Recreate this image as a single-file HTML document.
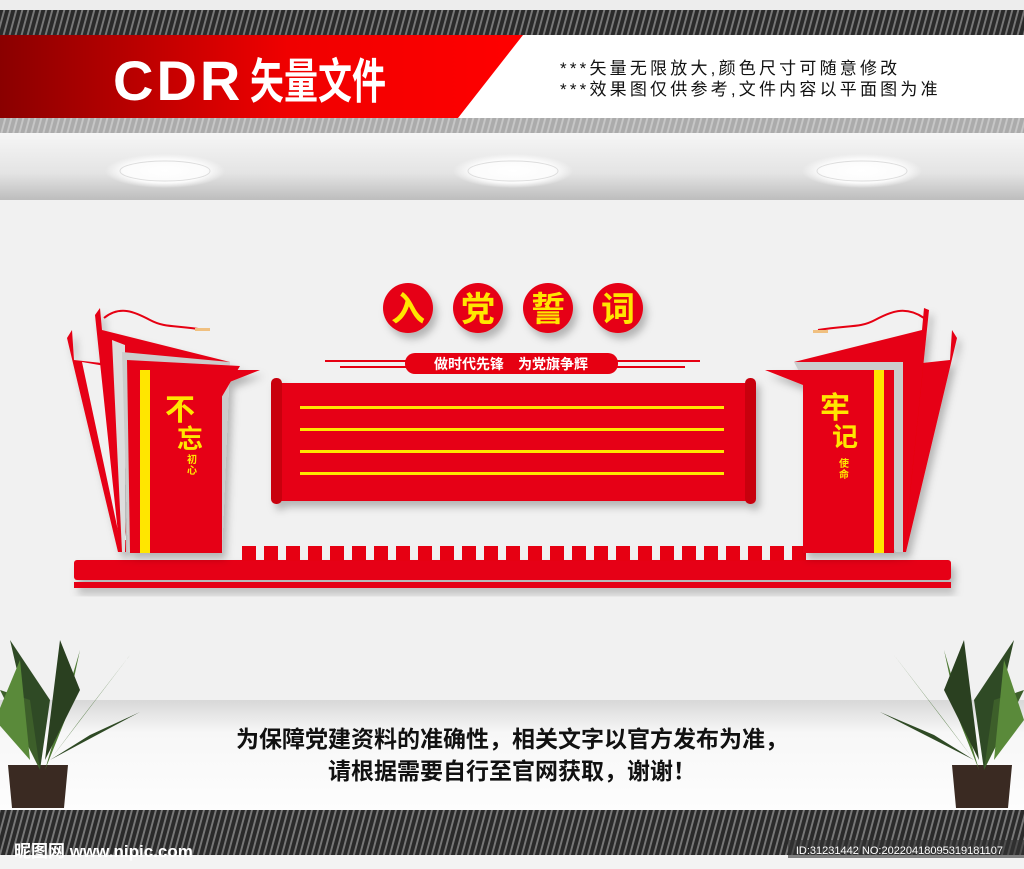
<!DOCTYPE html>
<html><head><meta charset="utf-8"><style>
html,body{margin:0;padding:0;width:1024px;height:869px;overflow:hidden;background:#f1f1f1}
svg{display:block}
text{font-family:"Liberation Sans","Noto Sans CJK SC",sans-serif}
</style></head><body>
<svg width="1024" height="869" viewBox="0 0 1024 869" xmlns="http://www.w3.org/2000/svg">
<defs>
<pattern id="st" width="6" height="10" patternUnits="userSpaceOnUse" patternTransform="skewX(-15)">
<rect width="6" height="10" fill="#2a2a2a"/><rect width="2" height="10" fill="#777"/>
</pattern>
<linearGradient id="rg" x1="0" x2="1"><stop offset="0" stop-color="#8a0000"/><stop offset="0.55" stop-color="#f00000"/><stop offset="1" stop-color="#ff0000"/></linearGradient>
<linearGradient id="ceil" x1="0" y1="0" x2="0" y2="1"><stop offset="0" stop-color="#f6f6f6"/><stop offset="0.6" stop-color="#e4e4e4"/><stop offset="1" stop-color="#bdbdbd"/></linearGradient>
<linearGradient id="bot" x1="0" y1="0" x2="0" y2="1"><stop offset="0" stop-color="#d8d8d8"/><stop offset="0.3" stop-color="#f7f7f7"/><stop offset="1" stop-color="#fdfdfd"/></linearGradient>
<radialGradient id="lt"><stop offset="0" stop-color="#fff"/><stop offset="0.7" stop-color="#fbfbfb"/><stop offset="1" stop-color="#fbfbfb" stop-opacity="0"/></radialGradient>
<filter id="sh" x="-10%" y="-10%" width="130%" height="140%"><feDropShadow dx="4" dy="6" stdDeviation="4" flood-color="#000" flood-opacity="0.25"/></filter>
</defs>
<rect x="0" y="0" width="1024" height="10" fill="#ededed"/>
<rect x="0" y="10" width="1024" height="25" fill="url(#st)"/>
<rect x="0" y="35" width="1024" height="83" fill="#fff"/>
<polygon points="0,35 523,35 458,118 0,118" fill="url(#rg)"/>
<text x="113" y="100" font-size="56" font-weight="bold" fill="#fff" letter-spacing="3">CDR</text>
<text transform="translate(250,98) scale(0.85,1.2)" font-size="40" font-weight="bold" fill="#fff">矢量文件</text>
<text x="560" y="74" font-size="17" fill="#111" letter-spacing="3.2">***矢量无限放大,颜色尺寸可随意修改</text>
<text x="560" y="95" font-size="17" fill="#111" letter-spacing="3.2">***效果图仅供参考,文件内容以平面图为准</text>
<rect x="0" y="118" width="1024" height="15" fill="url(#st)" opacity="0.35"/>
<rect x="0" y="133" width="1024" height="67" fill="url(#ceil)"/>
<ellipse cx="165" cy="171" rx="60" ry="17" fill="url(#lt)"/>
<ellipse cx="513" cy="171" rx="60" ry="17" fill="url(#lt)"/>
<ellipse cx="862" cy="171" rx="60" ry="17" fill="url(#lt)"/>
<ellipse cx="165" cy="171" rx="45" ry="10" fill="none" stroke="#ddd"/>
<ellipse cx="513" cy="171" rx="45" ry="10" fill="none" stroke="#ddd"/>
<ellipse cx="862" cy="171" rx="45" ry="10" fill="none" stroke="#ddd"/>
<rect x="0" y="200" width="1024" height="500" fill="#f1f1f1"/>
<g filter="url(#sh)">
<circle cx="408" cy="308" r="25" fill="#e60012"/>
<circle cx="478" cy="308" r="25" fill="#e60012"/>
<circle cx="548" cy="308" r="25" fill="#e60012"/>
<circle cx="618" cy="308" r="25" fill="#e60012"/>
</g>
<g font-size="34" font-weight="bold" fill="#ffe600" text-anchor="middle">
<text x="408" y="321">入</text><text x="478" y="321">党</text><text x="548" y="321">誓</text><text x="618" y="321">词</text>
</g>
<rect x="325" y="360" width="85" height="2" fill="#e60012"/><rect x="340" y="366" width="70" height="2" fill="#e60012"/>
<rect x="615" y="360" width="85" height="2" fill="#e60012"/><rect x="615" y="366" width="70" height="2" fill="#e60012"/>
<rect x="405" y="353" width="213" height="21" rx="10" fill="#e60012"/>
<text x="511" y="369" font-size="14" font-weight="bold" fill="#fff" text-anchor="middle">做时代先锋　为党旗争辉</text>
<g filter="url(#sh)">
<rect x="280" y="383" width="467" height="118" fill="#e60012"/>
<rect x="271" y="378" width="11" height="126" rx="5" fill="#c8000f"/>
<rect x="745" y="378" width="11" height="126" rx="5" fill="#c8000f"/>
</g>
<g fill="#ffe600">
<rect x="300" y="406" width="424" height="3"/><rect x="300" y="428" width="424" height="3"/>
<rect x="300" y="450" width="424" height="3"/><rect x="300" y="472" width="424" height="3"/>
</g>
<g filter="url(#sh)" fill="#e60012">
<rect x="74" y="560" width="877" height="20" rx="3"/>
<rect x="74" y="582" width="877" height="6"/>
</g>
<g fill="#e60012">
<rect x="242" y="546" width="14" height="15"/><rect x="264" y="546" width="14" height="15"/><rect x="286" y="546" width="14" height="15"/><rect x="308" y="546" width="14" height="15"/><rect x="330" y="546" width="14" height="15"/><rect x="352" y="546" width="14" height="15"/><rect x="374" y="546" width="14" height="15"/><rect x="396" y="546" width="14" height="15"/><rect x="418" y="546" width="14" height="15"/><rect x="440" y="546" width="14" height="15"/><rect x="462" y="546" width="14" height="15"/><rect x="484" y="546" width="14" height="15"/><rect x="506" y="546" width="14" height="15"/><rect x="528" y="546" width="14" height="15"/><rect x="550" y="546" width="14" height="15"/><rect x="572" y="546" width="14" height="15"/><rect x="594" y="546" width="14" height="15"/><rect x="616" y="546" width="14" height="15"/><rect x="638" y="546" width="14" height="15"/><rect x="660" y="546" width="14" height="15"/><rect x="682" y="546" width="14" height="15"/><rect x="704" y="546" width="14" height="15"/><rect x="726" y="546" width="14" height="15"/><rect x="748" y="546" width="14" height="15"/><rect x="770" y="546" width="14" height="15"/><rect x="792" y="546" width="14" height="15"/>
</g>
<g filter="url(#sh)">
<polygon points="67,338 72,330 74,360 120,365 126,552 118,552" fill="#e60012"/>
<polygon points="82,362 105,366 126,540 120,540" fill="#f1f1f1"/>
<polygon points="95,315 100,308 102,330 230,362 125,362 124,552 120,552" fill="#e60012"/>
<polygon points="112,340 122,552 125,552 125,345" fill="#ddd"/>
<polygon points="122,352 230,362 222,552 128,552" fill="#ccc"/>
<polygon points="127,360 240,366 130,552" fill="#e60012"/>
<polygon points="130,370 260,370 222,385 222,553 130,553" fill="#e60012"/>
</g>
<rect x="140" y="370" width="10" height="183" fill="#ffe600"/>
<path d="M104,318 C120,305 135,312 150,320 S175,325 205,330" stroke="#e60012" stroke-width="2" fill="none"/>
<rect x="195" y="328" width="15" height="3" fill="#f0c080"/>
<text x="180" y="420" font-size="30" font-weight="bold" fill="#ffe600" text-anchor="middle" font-family="Noto Serif CJK SC,serif">不</text>
<text x="190" y="448" font-size="26" font-weight="bold" fill="#ffe600" text-anchor="middle" font-family="Noto Serif CJK SC,serif">忘</text>
<text x="192" y="463" font-size="10" font-weight="bold" fill="#ffe600" text-anchor="middle">初</text>
<text x="192" y="474" font-size="10" font-weight="bold" fill="#ffe600" text-anchor="middle">心</text>
<g filter="url(#sh)">
<polygon points="957,338 952,330 950,360 904,365 898,552 906,552" fill="#e60012"/>
<polygon points="929,310 924,308 922,330 794,362 899,362 900,552 904,552" fill="#e60012"/>
<polygon points="794,362 903,362 903,552 896,552" fill="#ccc"/>
<polygon points="894,370 765,370 803,385 803,553 894,553" fill="#e60012"/>
</g>
<rect x="874" y="370" width="10" height="183" fill="#ffe600"/>
<path d="M924,318 C905,305 890,312 875,320 S850,325 818,330" stroke="#e60012" stroke-width="2" fill="none"/>
<rect x="813" y="330" width="15" height="3" fill="#f0c080"/>
<text x="835" y="418" font-size="30" font-weight="bold" fill="#ffe600" text-anchor="middle" font-family="Noto Serif CJK SC,serif">牢</text>
<text x="845" y="446" font-size="26" font-weight="bold" fill="#ffe600" text-anchor="middle" font-family="Noto Serif CJK SC,serif">记</text>
<text x="844" y="467" font-size="10" font-weight="bold" fill="#ffe600" text-anchor="middle">使</text>
<text x="844" y="478" font-size="10" font-weight="bold" fill="#ffe600" text-anchor="middle">命</text>
<rect x="0" y="700" width="1024" height="110" fill="url(#bot)"/>
<text x="512" y="747" font-size="23" font-weight="bold" fill="#111" text-anchor="middle">为保障党建资料的准确性，相关文字以官方发布为准，</text>
<text x="512" y="779" font-size="23" font-weight="bold" fill="#111" text-anchor="middle">请根据需要自行至官网获取，谢谢！</text>
<g>
<path d="M8,765 L68,765 L64,808 L12,808 Z" fill="#3a2a22"/>
<path d="M40,770 L10,640 L50,700 Z" fill="#2f4a25"/>
<path d="M40,770 L0,690 L30,700 Z" fill="#3d5f2a"/>
<path d="M45,770 L80,650 L65,720 Z" fill="#4f7a35"/>
<path d="M50,760 L130,655 L80,720 Z" fill="#3d6a2a"/>
<path d="M50,760 L140,712 L90,735 Z" fill="#2f4a25"/>
<path d="M30,760 L20,660 L-5,720 Z" fill="#5a8a3a"/>
<path d="M45,760 L60,640 L80,690 Z" fill="#2a4020"/>
<path d="M952,765 L1012,765 L1008,808 L956,808 Z" fill="#3a2a22"/>
<path d="M984,770 L1014,640 L974,700 Z" fill="#2f4a25"/>
<path d="M984,770 L1024,690 L994,700 Z" fill="#3d5f2a"/>
<path d="M979,770 L944,650 L959,720 Z" fill="#4f7a35"/>
<path d="M974,760 L894,655 L944,720 Z" fill="#3d6a2a"/>
<path d="M974,760 L880,712 L934,735 Z" fill="#2f4a25"/>
<path d="M994,760 L1004,660 L1024,720 Z" fill="#5a8a3a"/>
<path d="M979,760 L964,640 L944,690 Z" fill="#2a4020"/>
</g>
<rect x="0" y="810" width="1024" height="45" fill="url(#st)"/>
<rect x="0" y="855" width="1024" height="14" fill="#f3f3f3"/>
<text x="14" y="857" font-size="17" font-weight="bold" fill="#fff">昵图网 www.nipic.com</text>
<rect x="788" y="840" width="236" height="18" fill="#333" opacity="0.6"/>
<text x="1003" y="854" font-size="11" fill="#fff" text-anchor="end">ID:31231442 NO:20220418095319181107</text>
</svg>
</body></html>
